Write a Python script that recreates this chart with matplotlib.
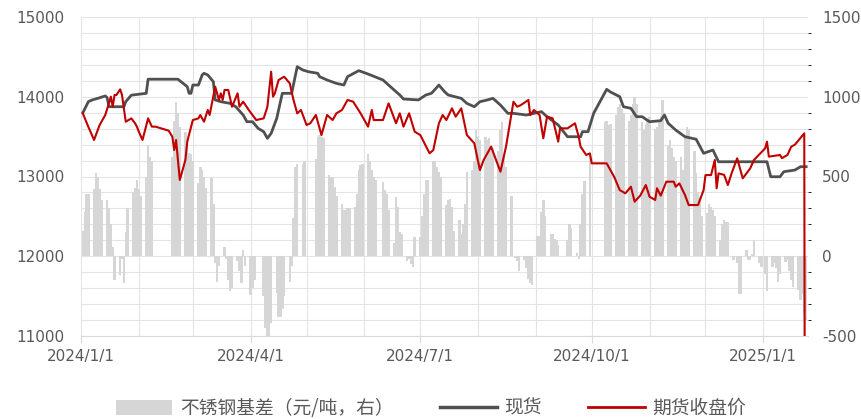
import pandas as pd
import matplotlib
matplotlib.use('Agg')
import matplotlib.pyplot as plt
import matplotlib.dates as mdates
from matplotlib.ticker import MultipleLocator, FixedLocator, FuncFormatter
from matplotlib.patches import Patch
from matplotlib.lines import Line2D

plt.rcParams['font.family'] = ['DejaVu Sans', 'Noto Sans CJK SC']
plt.rcParams['axes.unicode_minus'] = False

# exchange holidays (no basis bar on these weekdays)
holidays = ['2024-02-09', '2024-02-12', '2024-02-13', '2024-02-14', '2024-02-15',
            '2024-02-16', '2024-04-04', '2024-04-05', '2024-05-01', '2024-05-02',
            '2024-05-03', '2024-06-10', '2024-09-16', '2024-09-17', '2024-10-01',
            '2024-10-02', '2024-10-03', '2024-10-04', '2024-10-07', '2025-01-01']

# stainless steel basis, yuan/t (right axis), one value per trading day
basis = [
    160, 280, 390, 390,
    420, 520, 500, 420, 350,
    350, 300, 200, 60, -150,
    -120, -20, -170, 150, 300,
    400, 430, 480, 420, 380,
    500, 700, 620, 600,
    620, 850, 970, 900, 810,
    780, 750, 650, 640, 600,
    460, 560, 540, 500, 430,
    490, 330, -40, -160, -60,
    60, -20, -150, -220, -200,
    -30, -90, -170, 40, -60,
    -240, -200, -150,
    -250, -450, -510, -510, -420,
    -230, -380, -380, -330, -250,
    -160, -60, 240, 560, 580,
    580, 600,
    610, 750, 760, 750, 740,
    510, 500, 500, 435, 380,
    330, 290, 290, 300, 300,
    310, 390, 540, 570, 580,
    640, 600, 540, 500, 480,
    466, 415, 390, 290,
    80, 370, 310, 150, 140,
    -30, -20, -50, -65, 120,
    120, 250, 390, 480, 480,
    600, 590, 560, 530, 500,
    320, 350, 360, 310, 160,
    225, 140, 200, 330, 530,
    540, 600, 790, 750, 730,
    750, 730, 740, 700, 680,
    660, 790, 840, 620, 560,
    380, 0, -10, -30, -90,
    -25, -75, -140, -170, -180,
    130, 130, 280, 350, 250,
    140, 140, 110, 100, 70,
    100, 200, 180,
    20, -15, 200, 390, 470,
    640,
    840, 850, 820, 830,
    885, 935, 955, 925, 895,
    850, 885, 955, 1000, 955,
    840, 790, 830, 860, 870,
    800, 810, 850, 880, 980,
    700, 730, 680, 620, 600,
    620, 540, 750, 810, 790,
    660, 520, 400, 370, 250,
    270, 330, 310, 290, 250,
    100, 200, 225, 215, 215,
    -25, -5, -45, -235, -235,
    40, -25, -25, 15, 100,
    -45, -65,
    -110, -215,
    -65, -45, -75, -160, -110,
    -35, -25, -90, -150, -190,
    -210, -275, -235, -360, -400,
]

spot_dates = ['2024-01-02', '2024-01-05', '2024-01-07', '2024-01-10', '2024-01-14', '2024-01-15',
              '2024-01-16', '2024-01-24', '2024-01-25', '2024-01-28', '2024-02-05', '2024-02-06',
              '2024-02-22', '2024-02-27', '2024-02-28', '2024-02-29', '2024-03-01', '2024-03-04',
              '2024-03-06', '2024-03-07', '2024-03-09', '2024-03-12', '2024-03-13', '2024-03-16',
              '2024-03-21', '2024-03-24', '2024-03-28', '2024-03-30', '2024-04-02', '2024-04-05',
              '2024-04-08', '2024-04-10', '2024-04-12', '2024-04-15', '2024-04-18', '2024-04-23',
              '2024-04-26', '2024-04-29', '2024-05-02', '2024-05-07', '2024-05-08', '2024-05-12',
              '2024-05-17', '2024-05-21', '2024-05-23', '2024-05-29', '2024-06-03', '2024-06-11',
              '2024-06-15', '2024-06-20', '2024-06-22', '2024-06-30', '2024-07-04', '2024-07-07',
              '2024-07-11', '2024-07-14', '2024-07-16', '2024-07-23', '2024-07-26', '2024-07-30',
              '2024-08-02', '2024-08-06', '2024-08-09', '2024-08-13', '2024-08-17', '2024-08-20',
              '2024-08-27', '2024-09-04', '2024-09-07', '2024-09-13', '2024-09-18', '2024-09-25',
              '2024-09-26', '2024-09-29', '2024-10-02', '2024-10-09', '2024-10-11', '2024-10-16',
              '2024-10-18', '2024-10-22', '2024-10-25', '2024-10-28', '2024-11-01', '2024-11-07',
              '2024-11-09', '2024-11-11', '2024-11-15', '2024-11-20', '2024-11-26', '2024-11-30',
              '2024-12-05', '2024-12-08', '2025-01-03', '2025-01-05', '2025-01-10', '2025-01-12',
              '2025-01-18', '2025-01-21', '2025-01-24']
spot = [13800, 13940, 13960, 13980, 14010, 13990,
        13875, 13875, 13938, 14020, 14043, 14220,
        14220, 14126, 14043, 14043, 14147, 14147,
        14273, 14294, 14273, 14189, 13960, 13938,
        13917, 13875, 13771, 13687, 13687, 13604,
        13562, 13479, 13541, 13729, 14043, 14043,
        14377, 14335, 14314, 14294, 14252, 14210,
        14168, 14147, 14252, 14327, 14285, 14210,
        14126, 14022, 13972, 13960, 14022, 14043,
        14147, 14064, 14022, 13980, 13917, 13875,
        13938, 13960, 13980, 13896, 13792, 13792,
        13771, 13813, 13750, 13646, 13499, 13499,
        13562, 13562, 13792, 14093, 14060, 14001,
        13875, 13855, 13750, 13750, 13687, 13700,
        13771, 13667, 13583, 13499, 13467, 13291,
        13332, 13185, 13185, 12997, 12997, 13060,
        13081, 13123, 13123]

fut_dates = ['2024-01-02', '2024-01-05', '2024-01-08', '2024-01-11', '2024-01-14', '2024-01-16',
             '2024-01-17', '2024-01-18', '2024-01-19', '2024-01-20', '2024-01-22', '2024-01-23',
             '2024-01-25', '2024-01-28', '2024-01-30', '2024-01-31', '2024-02-01', '2024-02-03',
             '2024-02-06', '2024-02-08', '2024-02-10', '2024-02-17', '2024-02-19', '2024-02-20',
             '2024-02-21', '2024-02-23', '2024-02-26', '2024-02-27', '2024-03-01', '2024-03-04',
             '2024-03-05', '2024-03-07', '2024-03-09', '2024-03-10', '2024-03-13', '2024-03-15',
             '2024-03-16', '2024-03-17', '2024-03-18', '2024-03-20', '2024-03-22', '2024-03-25',
             '2024-03-26', '2024-03-28', '2024-03-31', '2024-04-04', '2024-04-08', '2024-04-10',
             '2024-04-12', '2024-04-13', '2024-04-14', '2024-04-16', '2024-04-19', '2024-04-22',
             '2024-04-24', '2024-04-26', '2024-04-28', '2024-04-29', '2024-05-01', '2024-05-03',
             '2024-05-06', '2024-05-09', '2024-05-12', '2024-05-15', '2024-05-17', '2024-05-20',
             '2024-05-23', '2024-05-26', '2024-05-30', '2024-06-03', '2024-06-05', '2024-06-06',
             '2024-06-11', '2024-06-14', '2024-06-18', '2024-06-20', '2024-06-22', '2024-06-25',
             '2024-06-28', '2024-07-01', '2024-07-06', '2024-07-08', '2024-07-11', '2024-07-13',
             '2024-07-15', '2024-07-18', '2024-07-20', '2024-07-23', '2024-07-26', '2024-07-30',
             '2024-08-02', '2024-08-04', '2024-08-06', '2024-08-08', '2024-08-10', '2024-08-13',
             '2024-08-16', '2024-08-20', '2024-08-22', '2024-08-24', '2024-08-28', '2024-08-29',
             '2024-08-31', '2024-09-03', '2024-09-05', '2024-09-07', '2024-09-10', '2024-09-13',
             '2024-09-14', '2024-09-18', '2024-09-22', '2024-09-24', '2024-09-25', '2024-09-28',
             '2024-09-30', '2024-10-01', '2024-10-09', '2024-10-13', '2024-10-16', '2024-10-19',
             '2024-10-22', '2024-10-24', '2024-10-27', '2024-10-30', '2024-11-01', '2024-11-04',
             '2024-11-05', '2024-11-07', '2024-11-10', '2024-11-14', '2024-11-15', '2024-11-17',
             '2024-11-20', '2024-11-22', '2024-11-27', '2024-11-30', '2024-12-01', '2024-12-04',
             '2024-12-06', '2024-12-07', '2024-12-08', '2024-12-11', '2024-12-13', '2024-12-15',
             '2024-12-18', '2024-12-21', '2024-12-25', '2024-12-27', '2025-01-02', '2025-01-03',
             '2025-01-04', '2025-01-10', '2025-01-11', '2025-01-14', '2025-01-16', '2025-01-18',
             '2025-01-23', '2025-01-24']
futures = [13790, 13620, 13458, 13646, 13771, 13917,
           14001, 13875, 14022, 14022, 14093, 14022,
           13687, 13729, 13667, 13625, 13562, 13458,
           13729, 13625, 13625, 13575, 13499, 13332,
           13458, 12956, 13207, 13437, 13708, 13729,
           13771, 13687, 13834, 13771, 14126, 13960,
           14043, 13960, 14085, 14085, 13875, 14043,
           13875, 13938, 13834, 13708, 13729, 13875,
           14314, 14001, 14043, 14210, 14252, 14168,
           13960, 13792, 13834, 13771, 13646, 13667,
           13771, 13520, 13771, 13708, 13792, 13834,
           13960, 13938, 13792, 13625, 13834, 13708,
           13708, 13917, 13667, 13792, 13625, 13792,
           13562, 13520, 13291, 13332, 13667, 13771,
           13708, 13855, 13750, 13855, 13520, 13416,
           13081, 13207, 13291, 13374, 13249, 13060,
           13374, 13938, 13875, 13896, 13960, 13771,
           13834, 13771, 13479, 13750, 13730, 13437,
           13604, 13604, 13667, 13499, 13374, 13270,
           13290, 13165, 13165, 12997, 12830, 12789,
           12872, 12684, 12760, 12893, 12747, 12705,
           12852, 12760, 12935, 12935, 12872, 12914,
           12768, 12642, 12642, 12830, 13018, 13018,
           13207, 12852, 13039, 13020, 12893, 13039,
           13228, 12977, 13102, 13207, 13353, 13437,
           13249, 13270, 13230, 13270, 13374, 13400,
           13541, 0]

trade_days = pd.bdate_range('2024-01-02', '2025-01-24')
trade_days = trade_days[~trade_days.isin(pd.to_datetime(holidays))]

txt = '#595959'
grid_c = '#e4e4e4'

fig = plt.figure(figsize=(8.62, 4.19), dpi=100)
ax = fig.add_axes([81 / 862, 1 - 336 / 419, (808 - 81) / 862, (336 - 17) / 419])
ax2 = ax.twinx()

# bars on the base axes (right scale), lines on the twin (left scale)
ax.bar(trade_days, basis, width=1.3, color='#d6d6d6', zorder=2)
ax.set_ylim(-500, 1500)
ax.yaxis.tick_right()
ax.yaxis.set_major_locator(MultipleLocator(500))
ax.yaxis.set_minor_locator(MultipleLocator(100))
ax.grid(axis='y', which='both', color=grid_c, linewidth=0.8, zorder=0)

ax.set_xlim(pd.Timestamp('2024-01-01'), pd.Timestamp('2025-01-25'))
ax.xaxis.set_major_locator(FixedLocator(mdates.date2num(pd.to_datetime(
    ['2024-01-01', '2024-04-01', '2024-07-01', '2024-10-01', '2025-01-01']))))
ax.xaxis.set_minor_locator(mdates.MonthLocator())
ax.xaxis.set_major_formatter(FuncFormatter(
    lambda v, p: '{0.year}/{0.month}/{0.day}'.format(mdates.num2date(v))))
ax.grid(axis='x', which='both', color=grid_c, linewidth=0.8, zorder=0)
ax.set_axisbelow(True)

ax2.plot(pd.to_datetime(spot_dates), spot, color='#505050', linewidth=2.0, zorder=3)
ax2.plot(pd.to_datetime(fut_dates), futures, color='#c00000', linewidth=1.5, zorder=4)
ax2.set_ylim(11000, 15000)
ax2.yaxis.tick_left()
ax2.yaxis.set_major_locator(MultipleLocator(1000))

for a in (ax, ax2):
    for s in a.spines.values():
        s.set_visible(False)
    a.tick_params(axis='y', length=0, labelsize=11, colors=txt)
ax.spines['bottom'].set_visible(True)
ax.spines['bottom'].set_color('#d9d9d9')
ax.tick_params(axis='y', pad=10)
ax2.tick_params(axis='y', pad=12)
ax.tick_params(axis='x', which='major', length=5, color='#d9d9d9', labelsize=11,
               labelcolor=txt, pad=4)
ax.tick_params(axis='x', which='minor', length=0)

handles = [Patch(facecolor='#d6d6d6', edgecolor='none'),
           Line2D([], [], color='#505050', linewidth=2.5),
           Line2D([], [], color='#c00000', linewidth=2.0)]
labels = ['不锈钢基差（元/吨，右）', '现货', '期货收盘价']
fig.legend(handles, labels, loc='lower center', bbox_to_anchor=(0.5, -0.04), ncol=3,
           frameon=False, handlelength=3.0, handleheight=0.9, handletextpad=0.4,
           columnspacing=2.5, prop={'family': ['Noto Sans CJK SC', 'DejaVu Sans'], 'size': 13.5},
           labelcolor=txt)

fig.savefig('out.png', dpi=100)
